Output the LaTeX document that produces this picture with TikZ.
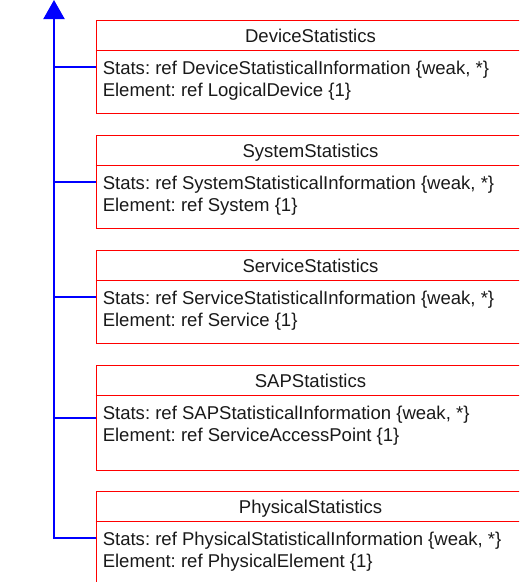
\documentclass[tikz,border=0pt]{standalone}
\usepackage{fontspec}
\setmainfont{Liberation Sans}
\usetikzlibrary{arrows.meta,calc}
\newcommand\umlbox[6]{%
  \node[cls,minimum height=#3*0.75pt] (#1) at (310.5,#2) {};
  \node[anchor=base,inner sep=0pt] (#1T) at ($(#1.north)+(0,23)$) {#4};
  \draw[red,line width=0.75pt] ($(#1.north west)+(0,31)$) -- ($(#1.north east)+(0,31)$);
  \node[attr] (#1S) at ($(#1.north west)+(7,55)$) {#5};
  \node[attr] (#1E) at ($(#1.north west)+(7,77)$) {#6};
}
\begin{document}
\frenchspacing
\begin{tikzpicture}[x=0.75pt,y=-0.75pt,
  every node/.style={font=\fontsize{13.9pt}{16pt}\selectfont\frenchspacing,text=black!90},
  cls/.style={draw=red,line width=0.75pt,minimum width=429*0.75pt,inner sep=0pt},
  attr/.style={anchor=base west,inner sep=0pt},
  conn/.style={draw=blue,line width=1.5pt}]
\clip (0,0) rectangle (519,582);
\umlbox{dev}{66.5}{93}{DeviceStatistics}{Stats: ref DeviceStatisticalInformation \{weak, *\}}{Element: ref LogicalDevice \{1\}}
\umlbox{sys}{181.5}{93}{SystemStatistics}{Stats: ref SystemStatisticalInformation \{weak, *\}}{Element: ref System \{1\}}
\umlbox{svc}{296.5}{93}{ServiceStatistics}{Stats: ref ServiceStatisticalInformation \{weak, *\}}{Element: ref Service \{1\}}
\umlbox{sap}{417.5}{105}{SAPStatistics}{Stats: ref SAPStatisticalInformation \{weak, *\}}{Element: ref ServiceAccessPoint \{1\}}
\umlbox{phy}{537.5}{93}{PhysicalStatistics}{Stats: ref PhysicalStatisticalInformation \{weak, *\}}{Element: ref PhysicalElement \{1\}}
\coordinate (tip) at (54,0);
\coordinate (bot) at (phy.west -| tip);
\draw[conn,-{Triangle[length=14.25pt,width=15.75pt]}] (phy.west) -- (bot) -- (tip);
\foreach \n in {dev,sys,svc,sap}{\draw[conn] (\n.west) -- (\n.west -| tip);}
\end{tikzpicture}
\end{document}
